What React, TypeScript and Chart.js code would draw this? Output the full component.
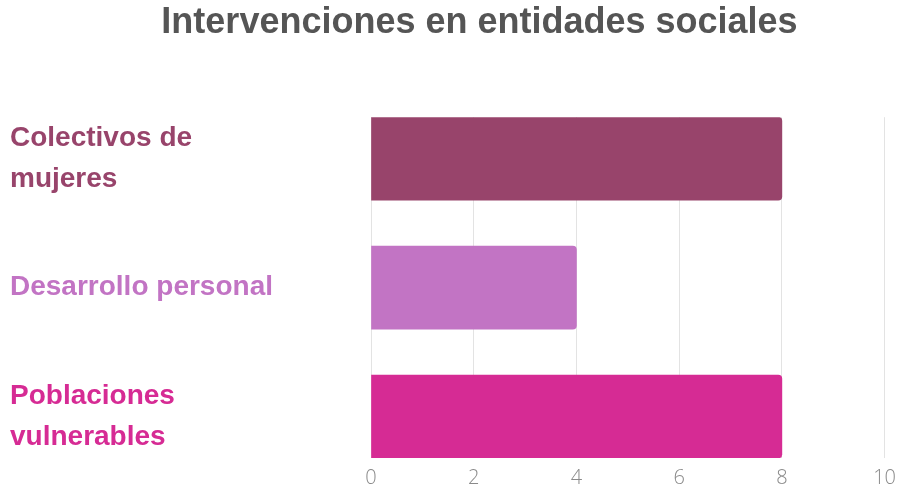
import React, { useEffect, useRef } from "react";
import { Chart, registerables } from "chart.js";

Chart.register(...registerables);

const titleText = "Intervenciones en entidades sociales";
const categories: string[][] = [
  ["Colectivos de", "mujeres"],
  ["Desarrollo personal"],
  ["Poblaciones", "vulnerables"],
];
const values: number[] = [8, 4, 8];
const barColors: string[] = ["#98446B", "#C274C4", "#D62B94"];
const xTicks: number[] = [0, 2, 4, 6, 8, 10];

const shiftTitle = {
  id: "shiftTitle",
  afterLayout(chart: any) {
    if (chart.titleBlock) {
      chart.titleBlock.left += 58;
    }
  },
};

export default function App() {
  const ref = useRef<HTMLCanvasElement | null>(null);

  useEffect(() => {
    if (!ref.current) return;
    const chart = new Chart(ref.current, {
      type: "bar",
      plugins: [shiftTitle],
      data: {
        datasets: [
          {
            data: values.map((v, i) => ({ x: v, y: i })),
            backgroundColor: barColors,
            borderRadius: 4,
            borderSkipped: "start",
            barThickness: 83,
          } as any,
        ],
      },
      options: {
        indexAxis: "y",
        animation: false,
        responsive: true,
        maintainAspectRatio: false,
        layout: { padding: { left: 10, right: 15, top: 0, bottom: 0 } },
        plugins: {
          legend: { display: false },
          tooltip: { enabled: false },
          title: {
            display: true,
            text: titleText,
            color: "#555555",
            font: { family: "'Liberation Sans', Arial, sans-serif", size: 36, weight: "bold", lineHeight: 1.2 },
            padding: { top: 1, bottom: 73 },
          },
        },
        scales: {
          x: {
            type: "linear",
            bounds: "data",
            min: xTicks[0],
            max: xTicks[xTicks.length - 1],
            afterBuildTicks: (s: any) => {
              s.ticks = xTicks.map((v) => ({ value: v }));
            },
            afterFit: (s: any) => {
              s.height = 28;
            },
            grid: { color: "#e3e3e3", drawTicks: false, lineWidth: 1 },
            border: { display: false },
            ticks: {
              color: "#8a8a8a",
              padding: 10,
              font: { family: "'Open Sans', sans-serif", size: 20, weight: 300, lineHeight: 1 },
            },
          },
          y: {
            type: "linear",
            bounds: "data",
            offset: false,
            reverse: true,
            min: -0.322,
            max: categories.length - 1 + 0.322,
            afterBuildTicks: (s: any) => {
              s.ticks = categories.map((_, i) => ({ value: i }));
            },
            afterFit: (s: any) => {
              s.width = 361;
              s.paddingTop = 0;
              s.paddingBottom = 0;
            },
            grid: { display: false, drawTicks: false, offset: false },
            border: { display: false },
            ticks: {
              crossAlign: "far",
              padding: 0,
              autoSkip: false,
              callback: (v: any) => categories[Math.round(Number(v))] ?? "",
              color: (ctx: any) => barColors[ctx.index] ?? "#333",
              font: { family: "'Liberation Sans', Arial, sans-serif", size: 28, weight: "bold", lineHeight: 1.45 },
            },
          },
        },
      } as any,
    });
    return () => chart.destroy();
  }, []);

  return (
    <div style={{ position: "fixed", left: 0, top: 0, width: 899, height: 486, overflow: "hidden", background: "#fff" }}>
      <div style={{ position: "absolute", left: 0, top: 0, width: 906, height: 486 }}>
        <canvas ref={ref} />
      </div>
    </div>
  );
}
